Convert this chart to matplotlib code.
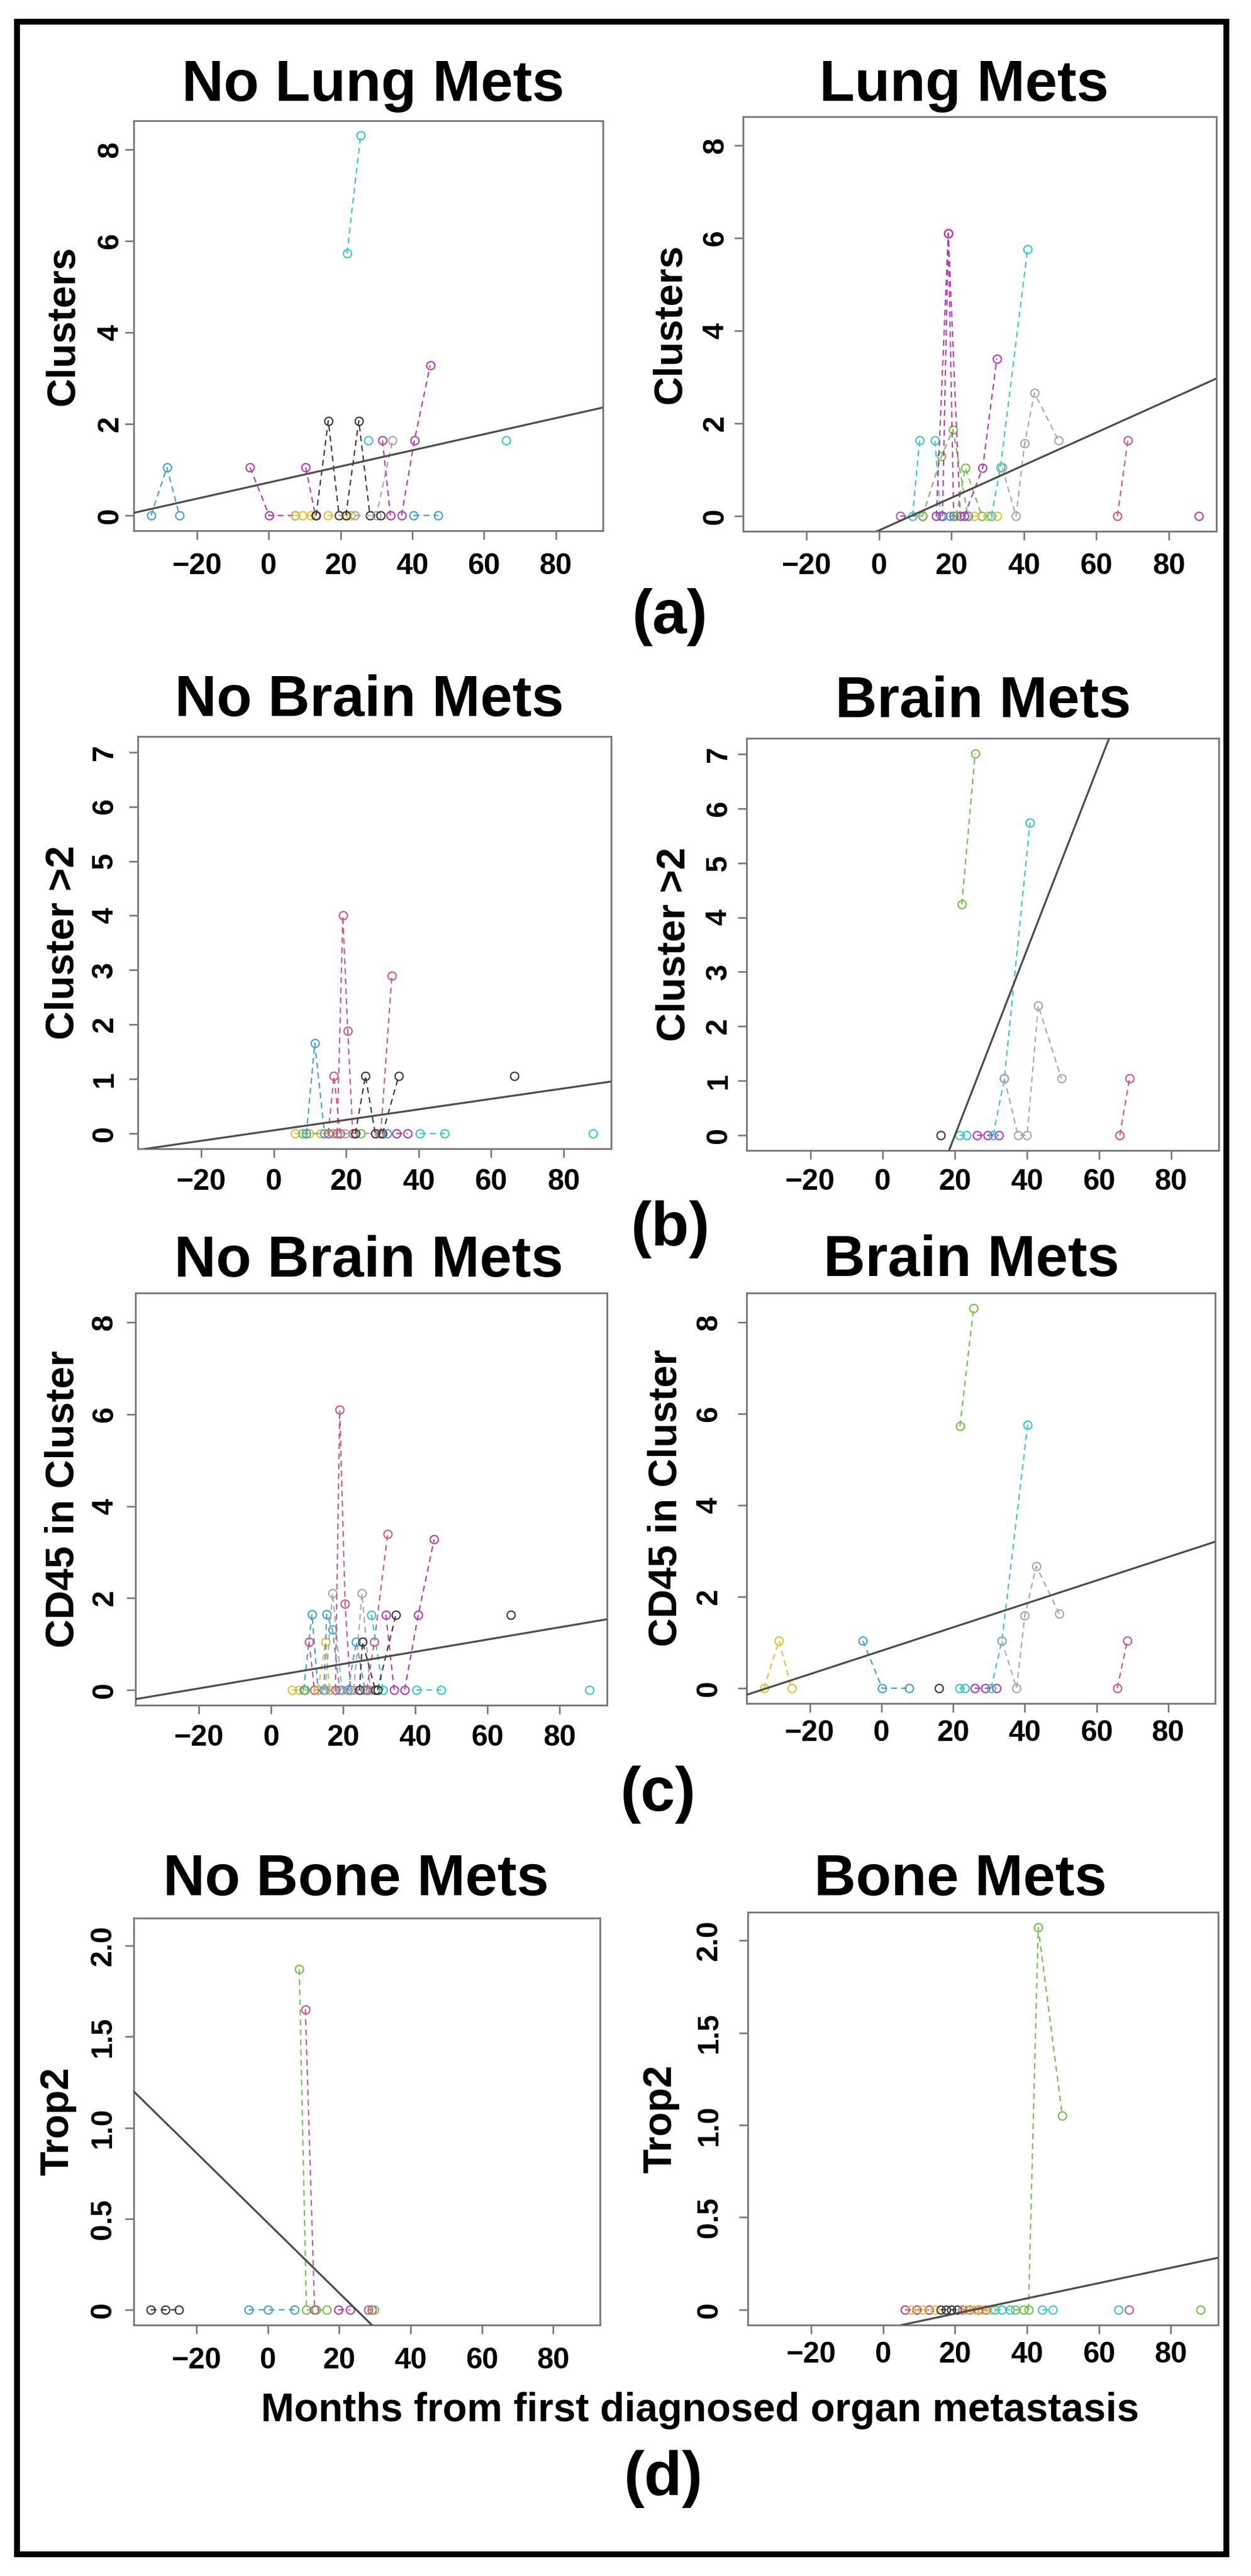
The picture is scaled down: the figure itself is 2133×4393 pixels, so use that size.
import matplotlib.pyplot as plt
from matplotlib.patches import Rectangle

W, H = 2133, 4393

plt.rcParams['font.family'] = ['Liberation Sans', 'DejaVu Sans']
plt.rcParams['font.weight'] = 'bold'

# patient colours
BLUE, CYAN, MAG, DARK = '#4a9fc9', '#3cc6c8', '#b23fae', '#3a3a3a'
GRAY, GOLD, GREEN, ROSE = '#a8a8a8', '#dcc23c', '#74bf4f', '#c85a84'

x_ticks = [-20, 0, 20, 40, 60, 80]
x_extent = (-32.8, 88.3)   # months, data range of all panels

# ---- (a) Clusters ----
a_nolung_x = [[-32.8, -28.4, -24.9], [-5.2, 0.1, 7.3], [7.3, 9.5, 11.8], [10.3, 13.0],
              [13.2, 16.6, 19.6], [16.4, 21.7, 22.8], [21.5, 25.1, 28.2], [21.8, 25.6],
              [24.0, 30.0, 34.5], [27.8], [31.2], [31.7, 33.9], [37.0, 40.6, 45.0],
              [40.4, 47.2], [66.2]]
a_nolung_y = [[0, 1.05, 0], [1.05, 0, 0], [0, 0, 0], [1.05, 0],
              [0, 2.07, 0], [0, 0, 0], [0, 2.07, 0], [5.73, 8.3],
              [0, 0, 1.64], [1.64], [0], [1.64, 0], [0, 1.64, 3.28],
              [0, 0], [1.64]]
a_nolung_c = [BLUE, MAG, GOLD, MAG, DARK, GOLD, DARK, CYAN, GRAY, CYAN, DARK, MAG, MAG,
              BLUE, CYAN]
a_nolung_fit = (0.72, 0.0176)

a_lung_x = [[5.9, 12.0], [9.2, 11.2], [12.0, 17.2, 20.4, 24.5], [15.4, 17.0],
            [15.8, 19.1, 22.4], [17.5, 19.1, 20.6], [19.6, 24.6], [21.3, 23.8, 28.4],
            [23.5, 28.6, 32.5], [26.2, 30.0, 32.5], [31.0, 33.5, 41.0],
            [34.0, 37.8, 40.2, 42.9, 49.5], [65.8, 68.7], [88.3]]
a_lung_y = [[0, 0], [0, 1.63], [0, 1.29, 1.87, 0], [1.63, 0],
            [0, 6.11, 0], [0, 6.11, 0], [0, 0], [0, 1.04, 0],
            [0, 1.04, 3.40], [0, 0, 0], [0, 1.05, 5.77],
            [1.05, 0, 1.57, 2.66, 1.64], [0, 1.64], [0]]
a_lung_c = [ROSE, CYAN, GREEN, CYAN, MAG, MAG, BLUE, GREEN, MAG, GOLD, CYAN, GRAY, ROSE, MAG]
a_lung_fit = (-0.307, 0.0352)

# ---- (b) Cluster >2 ----
b_nobrain_x = [[5.8, 9.7, 13.0], [8.0, 16.3, 24.0], [9.0, 11.3, 14.0], [15.0, 16.6, 18.3],
               [17.5, 19.05, 20.4, 21.8], [19.6, 29.0], [22.5, 25.3, 28.0], [29.5, 32.6],
               [30.0, 34.5], [31.2], [33.9, 36.9], [40.3, 47.1], [66.4], [88.2]]
b_nobrain_y = [[0, 0, 0], [0, 0, 0], [0, 1.66, 0], [0, 1.06, 0],
               [0, 4.0, 1.89, 0], [0, 0], [0, 1.06, 0], [0, 2.9],
               [0, 1.06], [0], [0, 0], [0, 0], [1.06], [0]]
b_nobrain_c = [GOLD, GREEN, BLUE, ROSE, ROSE, GRAY, DARK, ROSE, DARK, BLUE, MAG, CYAN, DARK, CYAN]
b_nobrain_fit = (0.062, 0.0096)

b_brain_x = [[16.1], [21.4, 23.3], [22.0, 25.7], [26.3, 29.1, 32.3], [30.7, 33.8, 40.9],
             [33.8, 37.6, 40.1, 43.2, 49.6], [65.8, 68.5]]
b_brain_y = [[0], [0, 0], [4.24, 7.01], [0, 0, 0], [0, 1.04, 5.74],
             [1.04, 0, 0, 2.38, 1.04], [0, 1.04]]
b_brain_c = [DARK, CYAN, GREEN, MAG, CYAN, GRAY, ROSE]
b_brain_fit = (-3.43, 0.1706)

# ---- (c) CD45 in Cluster ----
c_nobrain_x = [[5.8, 7.8], [9.0, 11.3, 13.0], [9.4, 19.6, 26.8], [10.5, 12.0], [13.0, 15.1, 16.2],
               [14.6, 15.4, 17.0, 19.0], [15.0, 17.0, 19.6], [17.8, 19.0, 20.5, 22.0],
               [21.3, 23.6, 26.0], [22.9, 25.2, 27.5], [24.5, 25.3, 28.9], [26.5, 28.6, 32.3],
               [27.8, 31.0], [29.5, 34.6], [31.8, 34.1], [37.0, 40.8, 45.2], [40.3, 47.1],
               [66.5], [88.3]]
c_nobrain_y = [[0, 0], [0, 1.65, 0], [0, 0, 0], [1.05, 0], [0, 1.05, 0],
               [0, 1.65, 1.31, 0], [0, 2.11, 0], [0, 6.10, 1.88, 0],
               [0, 1.05, 0], [0, 2.10, 0], [0, 1.05, 0], [0, 1.05, 3.40],
               [1.64, 0], [0, 1.64], [1.64, 0], [0, 1.64, 3.28], [0, 0],
               [1.64], [0]]
c_nobrain_c = [GOLD, BLUE, GREEN, ROSE, GOLD, BLUE, GRAY, ROSE, BLUE, GRAY, DARK, ROSE,
               CYAN, DARK, MAG, MAG, CYAN, DARK, CYAN]
c_nobrain_fit = (0.30, 0.0133)

c_brain_x = [[-32.8, -28.6, -25.1], [-5.2, 0.2, 7.7], [16.0], [21.7, 23.2], [21.9, 25.7],
             [26.0, 29.0, 32.1], [30.6, 33.6, 40.8], [33.6, 37.7, 40.0, 43.2, 49.6], [65.8, 68.6]]
c_brain_y = [[0, 1.04, 0], [1.04, 0, 0], [0], [0, 0], [5.73, 8.31],
             [0, 0, 0], [0, 1.04, 5.76], [1.04, 0, 1.59, 2.67, 1.63], [0, 1.04]]
c_brain_c = [GOLD, BLUE, DARK, CYAN, GREEN, MAG, CYAN, GRAY, ROSE]
c_brain_fit = (0.82, 0.0256)

# ---- (d) Trop2 ----
d_nobone_x = [[-32.9, -28.8, -24.9], [-5.4, 0.0, 7.5], [8.8, 10.8, 13.5, 16.4], [10.5, 13.1],
              [19.8, 23.1], [28.1, 29.2], [29.8]]
d_nobone_y = [[0, 0, 0], [0, 0, 0], [1.87, 0, 0, 0], [1.65, 0],
              [0, 0], [0, 0], [0]]
d_nobone_c = [DARK, BLUE, GREEN, ROSE, MAG, ROSE, GREEN]
d_nobone_fit = (0.477, -0.0192)

d_bone_x = [[6.1, 9.4, 12.7], [7.8, 11.0, 14.3], [16.0, 17.5, 19.0, 20.5], [22.0, 24.0, 26.5, 28.5],
            [23.0, 25.5, 27.5, 30.0], [31.0, 33.0, 35.3], [36.8, 39.0], [40.4, 43.1, 49.8],
            [44.2, 47.2], [65.5], [68.3], [88.2]]
d_bone_y = [[0, 0, 0], [0, 0, 0], [0, 0, 0, 0], [0, 0, 0, 0],
            [0, 0, 0, 0], [0, 0, 0], [0, 0], [0, 2.07, 1.05],
            [0, 0], [0], [0], [0]]
d_bone_c = [MAG, GOLD, DARK, ROSE, GOLD, CYAN, GREEN, GREEN, CYAN, CYAN, ROSE, GREEN]
d_bone_fit = (-0.104, 0.00414)

ymax_a, ymax_b, ymax_c, ymax_d = 8.3, 7.01, 8.31, 2.07
yticks_ac = [0, 2, 4, 6, 8]
yticks_b = [0, 1, 2, 3, 4, 5, 6, 7]
yticks_d = [0, 0.5, 1.0, 1.5, 2.0]
ylabels_d = ['0', '0.5', '1.0', '1.5', '2.0']

fig = plt.figure(figsize=(W / 100, H / 100), dpi=100)


def panel(box, xs, ys, cols, fit, ymax, yticks, ylabels, title, tpos, ylab, ylab_x, xpad, ypad):
    x0, y0, x1, y1 = box
    ax = fig.add_axes([x0 / W, 1 - y1 / H, (x1 - x0) / W, (y1 - y0) / H])
    for x, y, c in zip(xs, ys, cols):
        ax.plot(x, y, ls=(0, (4.5, 3.2)), lw=1.6, color=c, marker='o', ms=10,
                mfc='none', mew=1.6)
    ax.axline((0, fit[0]), slope=fit[1], color='#4d4d4d', lw=2.4, zorder=3)
    span = x_extent[1] - x_extent[0]
    ax.set_xlim(x_extent[0] - 0.04 * span, x_extent[1] + 0.04 * span)
    ax.set_ylim(-0.04 * ymax, 1.04 * ymax)
    ax.set_xticks(x_ticks)
    ax.set_yticks(yticks, labels=ylabels, rotation=90, va='center')
    ax.tick_params(direction='out', length=11, width=2, color='#7a7a7a', labelsize=36)
    ax.tick_params(axis='x', pad=xpad)
    ax.tick_params(axis='y', pad=ypad)
    for s in ax.spines.values():
        s.set_color('#7a7a7a')
        s.set_linewidth(2.2)
    fig.text(tpos[0] / W, 1 - tpos[1] / H, title, ha='center', va='baseline', fontsize=71)
    fig.text(ylab_x / W, 1 - (y0 + y1) / 2 / H, ylab, rotation=90, rotation_mode='anchor',
             ha='center', va='baseline', fontsize=49)
    return ax


lab_ac = [str(v) for v in yticks_ac]
lab_b = [str(v) for v in yticks_b]

panel((228, 205.5, 1028, 905), a_nolung_x, a_nolung_y, a_nolung_c, a_nolung_fit, ymax_a,
      yticks_ac, lab_ac, 'No Lung Mets', (636, 172), 'Clusters', 126, 16, 1)
panel((1266.5, 198.5, 2074, 906.4), a_lung_x, a_lung_y, a_lung_c, a_lung_fit, ymax_a,
      yticks_ac, lab_ac, 'Lung Mets', (1644, 172), 'Clusters', 1161, 15.5, 6)
panel((234.5, 1255.6, 1042, 1959.4), b_nobrain_x, b_nobrain_y, b_nobrain_c, b_nobrain_fit, ymax_b,
      yticks_b, lab_b, 'No Brain Mets', (630, 1221), 'Cluster >2', 126, 13.2, 12.5)
panel((1273, 1259, 2077.5, 1962), b_brain_x, b_brain_y, b_brain_c, b_brain_fit, ymax_b,
      yticks_b, lab_b, 'Brain Mets', (1676, 1223), 'Cluster >2', 1168, 11.5, 6.5)
panel((231, 2205, 1035, 2908), c_nobrain_x, c_nobrain_y, c_nobrain_c, c_nobrain_fit, ymax_c,
      yticks_ac, lab_ac, 'No Brain Mets', (629, 2177), 'CD45 in Cluster', 126, 12.5, 10)
panel((1273, 2205, 2072, 2905), c_brain_x, c_brain_y, c_brain_c, c_brain_fit, ymax_c,
      yticks_ac, lab_ac, 'Brain Mets', (1656, 2176), 'CD45 in Cluster', 1154, 9.5, 18.5)
panel((228, 3270.5, 1023, 3965), d_nobone_x, d_nobone_y, d_nobone_c, d_nobone_fit, ymax_d,
      yticks_d, ylabels_d, 'No Bone Mets', (607, 3232), 'Trop2', 116, 16.5, 10)
panel((1275, 3261, 2077, 3965), d_bone_x, d_bone_y, d_bone_c, d_bone_fit, ymax_d,
      yticks_d, ylabels_d, 'Bone Mets', (1637, 3232), 'Trop2', 1144, 9, 19.5)

fig.text(1193.5 / W, 1 - 4129 / H, 'Months from first diagnosed organ metastasis',
         ha='center', va='baseline', fontsize=49)

for lab, lx, ly in [('(a)', 1078, 1080), ('(b)', 1076, 2124), ('(c)', 1058, 3088), ('(d)', 1064, 4255)]:
    fig.text(lx / W, 1 - ly / H, lab, ha='left', va='baseline', fontsize=76)

fig.patches.append(Rectangle((29 / W, 1 - 4356 / H), (2091 - 29) / W, (4356 - 37) / H,
                             transform=fig.transFigure, fill=False, lw=7.2, ec='black'))

fig.savefig('out.png', dpi=100)
